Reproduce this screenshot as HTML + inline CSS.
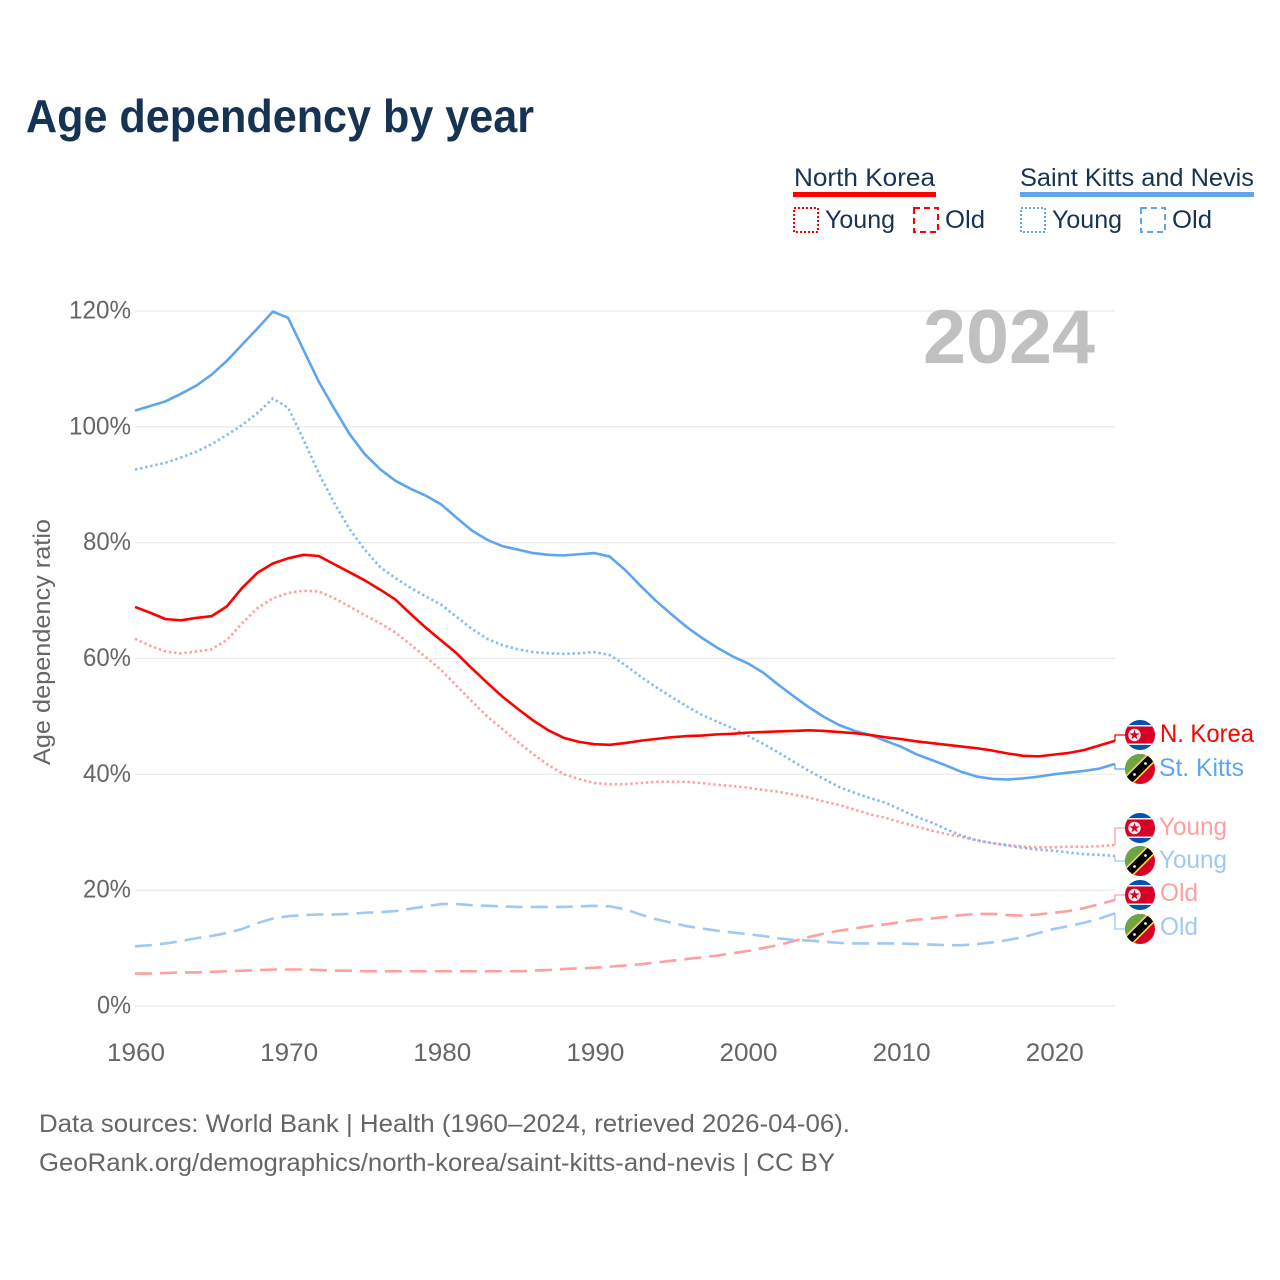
<!DOCTYPE html>
<html lang="en">
<head>
<meta charset="utf-8">
<title>Age dependency by year</title>
<style>
html,body{margin:0;padding:0;background:#fff;}
svg{display:block;}
text{font-family:"Liberation Sans",sans-serif;}
</style>
</head>
<body>
<svg id="chart" xmlns="http://www.w3.org/2000/svg" width="1280" height="1280" viewBox="0 0 1280 1280">
<defs>
<clipPath id="flag-clip"><circle cx="0" cy="0" r="15"/></clipPath>
<g id="flag-nk" clip-path="url(#flag-clip)">
  <rect x="-15" y="-15" width="30" height="30" fill="#0052b4"/>
  <rect x="-15" y="-10" width="30" height="20" fill="#f0f0f0"/>
  <rect x="-15" y="-8.5" width="30" height="17" fill="#d80027"/>
  <circle cx="-5.5" cy="0" r="6.2" fill="#f0f0f0"/>
  <polygon transform="translate(-5.5,0) scale(1.15) translate(5.5,0)" points="-5.5,-4.6 -4.4,-1.4 -1.1,-1.4 -3.8,0.6 -2.8,3.8 -5.5,1.8 -8.2,3.8 -7.2,0.6 -9.9,-1.4 -6.6,-1.4" fill="#d80027"/>
</g>
<g id="flag-kn" clip-path="url(#flag-clip)">
  <rect x="-15" y="-15" width="30" height="30" fill="#d80027"/>
  <polygon points="-15,-15 15,-15 -15,15" fill="#6da544"/>
  <g transform="rotate(-45)">
    <rect x="-22" y="-5.6" width="44" height="11.2" fill="#ffda44"/>
    <rect x="-22" y="-4" width="44" height="8" fill="#000000"/>
  </g>
  <circle cx="-5.5" cy="5.5" r="1.4" fill="#f0f0f0"/>
  <circle cx="5.5" cy="-5.5" r="1.4" fill="#f0f0f0"/>
</g>
</defs>

<rect x="0" y="0" width="1280" height="1280" fill="#ffffff"/>

<text x="26" y="132" font-size="46" font-weight="700" fill="#173353" textLength="508" lengthAdjust="spacingAndGlyphs">Age dependency by year</text>

<g id="grid"></g>
<g id="yticks"></g>
<g id="xticks"></g>

<text x="923" y="363" font-size="76" font-weight="700" fill="#c0c0c0" textLength="172" lengthAdjust="spacingAndGlyphs">2024</text>

<text transform="translate(50,765) rotate(-90)" x="0" y="0" font-size="24" fill="#666666" textLength="246" lengthAdjust="spacingAndGlyphs">Age dependency ratio</text>

<g id="series"></g>
<g id="leaders"></g>

<g>
  <g>
    <text x="794" y="186" font-size="25" fill="#173353" textLength="141" lengthAdjust="spacingAndGlyphs">North Korea</text>
    <rect x="793" y="192" width="143" height="5" fill="#ff0000"/>
    <rect x="794" y="208" width="24" height="24" fill="none" stroke="#ff0000" stroke-width="2" stroke-dasharray="2 2"/>
    <text x="825" y="228" font-size="25" fill="#173353" textLength="70" lengthAdjust="spacingAndGlyphs">Young</text>
    <rect x="914" y="208" width="24" height="24" fill="none" stroke="#ff0000" stroke-width="2" stroke-dasharray="6 4"/>
    <text x="945" y="228" font-size="25" fill="#173353" textLength="40" lengthAdjust="spacingAndGlyphs">Old</text>
  </g>
  <g>
    <text x="1020" y="186" font-size="25" fill="#173353" textLength="234" lengthAdjust="spacingAndGlyphs">Saint Kitts and Nevis</text>
    <rect x="1020" y="192" width="234" height="5" fill="#5fa5ee"/>
    <rect x="1021" y="208" width="24" height="24" fill="none" stroke="#5fa5ee" stroke-width="2" stroke-dasharray="2 2"/>
    <text x="1052" y="228" font-size="25" fill="#173353" textLength="70" lengthAdjust="spacingAndGlyphs">Young</text>
    <rect x="1141" y="208" width="24" height="24" fill="none" stroke="#5fa5ee" stroke-width="2" stroke-dasharray="6 4"/>
    <text x="1172" y="228" font-size="25" fill="#173353" textLength="40" lengthAdjust="spacingAndGlyphs">Old</text>
  </g>
</g>

<g>
  <use href="#flag-nk" x="1140" y="735"/>
  <text x="1160" y="742" font-size="25" fill="#ff0000" textLength="94" lengthAdjust="spacingAndGlyphs">N. Korea</text>
  <use href="#flag-kn" x="1140" y="769"/>
  <text x="1159" y="776" font-size="25" fill="#5fa5ee" textLength="85" lengthAdjust="spacingAndGlyphs">St. Kitts</text>
  <use href="#flag-nk" x="1140" y="828"/>
  <text x="1159" y="835" font-size="25" fill="#ff9f9f" textLength="68" lengthAdjust="spacingAndGlyphs">Young</text>
  <use href="#flag-kn" x="1140" y="861"/>
  <text x="1159" y="868" font-size="25" fill="#9fc9f4" textLength="68" lengthAdjust="spacingAndGlyphs">Young</text>
  <use href="#flag-nk" x="1140" y="895"/>
  <text x="1160" y="901" font-size="25" fill="#ff9f9f" textLength="38" lengthAdjust="spacingAndGlyphs">Old</text>
  <use href="#flag-kn" x="1140" y="929"/>
  <text x="1160" y="935" font-size="25" fill="#9fc9f4" textLength="38" lengthAdjust="spacingAndGlyphs">Old</text>
</g>

<text x="39" y="1132" font-size="25" fill="#666666" textLength="811" lengthAdjust="spacingAndGlyphs">Data sources: World Bank | Health (1960–2024, retrieved 2026-04-06).</text>
<text x="39" y="1171" font-size="25" fill="#666666" textLength="796" lengthAdjust="spacingAndGlyphs">GeoRank.org/demographics/north-korea/saint-kitts-and-nevis | CC BY</text>
</svg>

<script>
var startYear = 1960;
var yTickValues = [0, 20, 40, 60, 80, 100, 120];
var xTickValues = [1960, 1970, 1980, 1990, 2000, 2010, 2020];
var knTotal = [102.8,103.6,104.4,105.7,107.1,109,111.4,114.2,117,119.9,118.8,113.3,107.8,103.2,98.8,95.3,92.7,90.7,89.3,88.1,86.6,84.3,82.1,80.5,79.4,78.8,78.2,77.9,77.8,78,78.2,77.6,75.3,72.6,70,67.7,65.5,63.6,61.9,60.4,59.2,57.6,55.5,53.5,51.6,49.9,48.5,47.5,46.8,45.8,44.8,43.5,42.5,41.5,40.4,39.6,39.2,39.1,39.3,39.6,40,40.3,40.6,41,41.8];
var knYoung = [92.6,93.2,93.8,94.7,95.7,97,98.6,100.3,102.4,104.9,103.3,97.8,92,86.9,82.4,78.8,75.8,73.9,72.2,70.7,69.3,67.2,65.1,63.4,62.3,61.6,61.1,60.9,60.8,60.9,61.1,60.6,58.9,56.9,55.1,53.4,51.8,50.3,49.1,48,46.7,45.3,43.8,42.2,40.6,39.2,37.8,36.8,35.9,35.1,33.9,32.7,31.7,30.5,29.4,28.6,28.1,27.7,27.3,27,26.8,26.5,26.2,26.1,25.9];
var knOld = [10.3,10.5,10.8,11.2,11.7,12.1,12.6,13.3,14.3,15.1,15.5,15.7,15.8,15.8,15.9,16.1,16.2,16.4,16.8,17.2,17.6,17.6,17.4,17.3,17.2,17.1,17.1,17.1,17.1,17.2,17.3,17.2,16.7,15.8,15,14.4,13.8,13.4,13,12.7,12.4,12.1,11.7,11.4,11.3,11.1,10.9,10.8,10.8,10.8,10.8,10.7,10.6,10.5,10.5,10.7,11,11.4,11.9,12.6,13.3,13.8,14.4,15.1,16];
var nkTotal = [68.9,67.9,66.8,66.6,67,67.3,69,72.2,74.8,76.4,77.3,77.9,77.7,76.3,74.9,73.5,71.9,70.2,67.7,65.3,63.1,60.9,58.3,55.8,53.4,51.3,49.3,47.6,46.3,45.6,45.2,45.1,45.4,45.8,46.1,46.4,46.6,46.7,46.9,47,47.2,47.3,47.4,47.5,47.6,47.5,47.3,47.1,46.8,46.4,46.1,45.7,45.4,45.1,44.8,44.5,44.1,43.6,43.2,43.1,43.4,43.7,44.2,45,45.8];
var nkYoung = [63.4,62.2,61.2,60.9,61.2,61.6,63.2,66.1,68.7,70.4,71.3,71.7,71.6,70.4,69,67.5,66.1,64.5,62.4,60.2,58,55.3,52.6,50,47.8,45.6,43.5,41.6,40,39.2,38.5,38.3,38.3,38.5,38.7,38.7,38.7,38.5,38.2,38,37.7,37.3,37,36.5,36,35.3,34.7,33.9,33.1,32.5,31.7,31,30.3,29.7,29.2,28.6,28.1,27.8,27.5,27.4,27.4,27.5,27.5,27.6,27.8];
var nkOld = [5.6,5.6,5.7,5.8,5.8,5.9,6,6.1,6.2,6.3,6.3,6.3,6.2,6.1,6.1,6,6,6,6,6,6,6,6,6,6,6,6.1,6.2,6.4,6.5,6.6,6.8,7,7.2,7.5,7.8,8.1,8.4,8.7,9.1,9.5,10,10.5,11.2,11.9,12.5,13,13.4,13.8,14.1,14.5,14.9,15.1,15.4,15.7,15.9,15.9,15.7,15.6,15.8,16.1,16.4,16.9,17.6,18.3];

var NS = 'http://www.w3.org/2000/svg';
function xScale(year) { return 135 + (year - 1960) * (980 / 64); }
function yScale(v) { return 1006 - v * (695 / 120); }

function make(parent, tag, attrs, text) {
  var el = document.createElementNS(NS, tag);
  for (var k in attrs) el.setAttribute(k, attrs[k]);
  if (text !== undefined) el.textContent = text;
  parent.appendChild(el);
  return el;
}
function seriesPath(values) {
  var d = '';
  for (var i = 0; i < values.length; i++) {
    d += (i ? 'L' : 'M') + xScale(startYear + i).toFixed(2) + ' ' + yScale(values[i]).toFixed(2);
  }
  return d;
}

var grid = document.getElementById('grid');
var yticks = document.getElementById('yticks');
var xticks = document.getElementById('xticks');
var seriesGroup = document.getElementById('series');
var leaders = document.getElementById('leaders');

yTickValues.forEach(function (v) {
  var line = make(grid, 'line', {x1: 135, x2: 1115, y1: yScale(v), y2: yScale(v), stroke: '#e9e9e9', 'stroke-width': 1.2});
  
  
  var label = v + '%';
  var width = 14 * (label.length - 1) + 20;
  var t = make(yticks, 'text', {x: 131, y: yScale(v) + 7.5, 'text-anchor': 'end', 'font-size': 25, fill: '#666666', textLength: width, lengthAdjust: 'spacingAndGlyphs'}, label);
  
  
});

xTickValues.forEach(function (yr) {
  var t = make(xticks, 'text', {x: xScale(yr) + 1, y: 1061, 'text-anchor': 'middle', 'font-size': 25, fill: '#666666', textLength: 58, lengthAdjust: 'spacingAndGlyphs'}, String(yr));
  
  
});

var oldDash = '17 8';
var youngDash = '2.4 2.8';

var lineOld1 = make(seriesGroup, 'path', {d: seriesPath(nkOld), fill: 'none', stroke: '#ff9f9f', 'stroke-width': 2.6, 'stroke-dasharray': oldDash, 'stroke-linejoin': 'round'});


var lineOld2 = make(seriesGroup, 'path', {d: seriesPath(knOld), fill: 'none', stroke: '#9fc9f4', 'stroke-width': 2.6, 'stroke-dasharray': oldDash, 'stroke-linejoin': 'round'});


var lineYoung1 = make(seriesGroup, 'path', {d: seriesPath(nkYoung), fill: 'none', stroke: '#ff9f9f', 'stroke-width': 2.6, 'stroke-dasharray': youngDash, 'stroke-linejoin': 'round'});


var lineYoung2 = make(seriesGroup, 'path', {d: seriesPath(knYoung), fill: 'none', stroke: '#86bbf2', 'stroke-width': 2.6, 'stroke-dasharray': youngDash, 'stroke-linejoin': 'round'});


var lineTotal2 = make(seriesGroup, 'path', {d: seriesPath(knTotal), fill: 'none', stroke: '#5fa5ee', 'stroke-width': 2.6, 'stroke-linejoin': 'round'});


var lineTotal1 = make(seriesGroup, 'path', {d: seriesPath(nkTotal), fill: 'none', stroke: '#ff0000', 'stroke-width': 2.6, 'stroke-linejoin': 'round'});



function leader(values, flagY, color) {
  var yEnd = yScale(values[values.length - 1]);
  var p = make(leaders, 'path', {d: 'M1115 ' + yEnd.toFixed(2) + 'V' + flagY + 'H1125', fill: 'none', stroke: color, 'stroke-width': 1.3});
  
  
}
leader(nkTotal, 735, '#ff0000');
leader(knTotal, 769, '#5fa5ee');
leader(nkYoung, 828, '#ff9f9f');
leader(knYoung, 861, '#9fc9f4');
leader(nkOld, 895, '#ff9f9f');
leader(knOld, 929, '#9fc9f4');
</script>
</body>
</html>
